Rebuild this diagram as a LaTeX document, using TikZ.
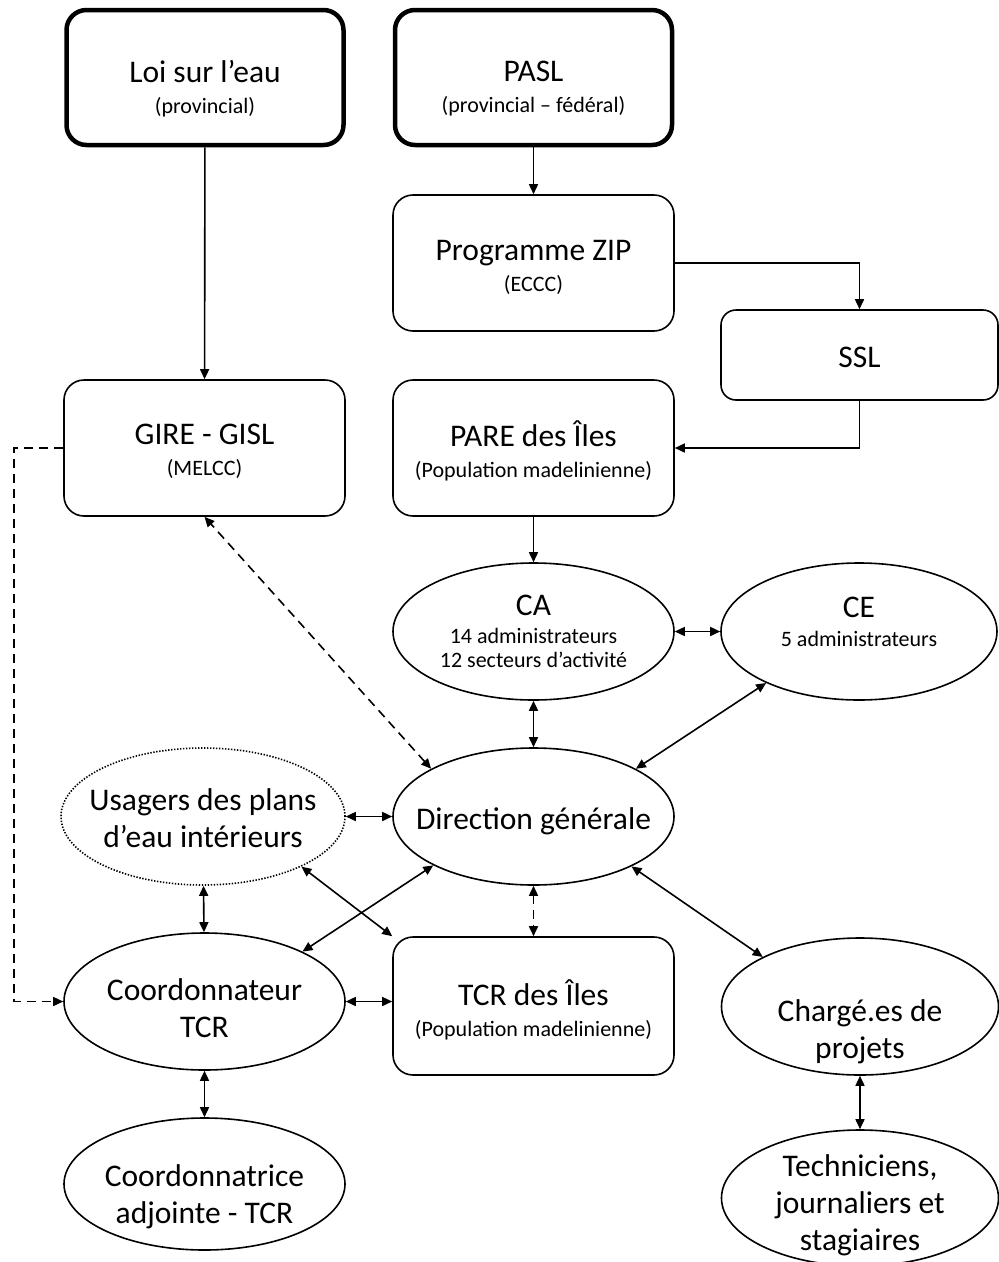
\documentclass[tikz,border=0pt]{standalone}
\usepackage{fontspec}
\setmainfont{Carlito}
\usetikzlibrary{arrows.meta, shapes.geometric}

\newcommand{\subtxt}[1]{{\fontsize{22}{26}\selectfont #1}}

\tikzstyle{box} = [draw, rectangle, rounded corners=20pt, minimum width=281pt, minimum height=136pt, line width=1.6pt]
\tikzstyle{top box} = [box, line width=4.5pt, minimum width=277pt, minimum height=135pt]
\tikzstyle{oval} = [draw, ellipse, minimum width=281pt, minimum height=137pt, inner sep=0pt, line width=1.6pt]
\tikzstyle{txt} = [align=center, font=\fontsize{31.5}{37}\selectfont]
\tikzstyle{link} = [draw, line width=1.6pt]
\tikzstyle{dash link} = [dash pattern=on 9pt off 6pt]

\begin{document}
\begin{tikzpicture}[x=1pt, y=-1pt, >={Triangle[length=10pt,width=9pt]}]
    \useasboundingbox (0,0) rectangle (999,1262);

    % The two frameworks on top
    \node[top box, label={[txt, yshift=-11pt]center:{Loi sur l’eau\\[-6pt]\subtxt{(provincial)}}}] (loi) at (205,77.5) {};
    \node[top box, label={[txt, yshift=-11pt]center:{PASL\\[-6pt]\subtxt{(provincial – fédéral)}}}] (pasl) at (533.5,77.5) {};

    % The boxes
    \node[box, label={[txt, yshift=-4pt]center:{Programme ZIP\\[-6pt]\subtxt{(ECCC)}}}] (zip) at (533.5,263) {};
    \node[box, minimum width=277pt, minimum height=90pt, rounded corners=15pt, label={[txt, yshift=-2pt]center:SSL}] (ssl) at (859.5,355) {};
    \node[box, label={[txt, yshift=-3pt]center:{GIRE - GISL\\[-6pt]\subtxt{(MELCC)}}}] (gire) at (204.5,448) {};
    \node[box, label={[txt, yshift=-3pt]center:{PARE des Îles\\[-6pt]\subtxt{(Population madelinienne)}}}] (pare) at (533.5,448) {};
    \node[box, minimum height=138pt, label={[txt, yshift=-4pt]center:{TCR des Îles\\[-6pt]\subtxt{(Population madelinienne)}}}] (tcr) at (533.5,1006) {};

    % The ellipses
    \node[oval, label={[txt]center:{CA\\[-9pt]\subtxt{14 administrateurs}\\[-13pt]\subtxt{12 secteurs d’activité}}}] (ca) at (533.5,631.5) {};
    \node[oval, minimum width=276pt, label={[txt, yshift=10pt]center:{CE\\[-8pt]\subtxt{5 administrateurs}}}] (ce) at (859,631.5) {};
    \node[oval, label={[txt, yshift=-5pt]center:Direction générale}] (dir) at (533.5,816.5) {};
    \node[oval, minimum width=284pt, dash pattern=on 1.4pt off 1.6pt, label={[txt, yshift=-2pt]center:{Usagers des plans\\d’eau intérieurs}}] (usagers) at (203,816.5) {};
    \node[oval, label={[txt, yshift=-7pt]center:{Coordonnateur\\TCR}}] (coord) at (204.5,1001.5) {};
    \node[oval, minimum height=132pt, label={[txt, yshift=-13pt]center:{Coordonnatrice\\adjointe - TCR}}] (adj) at (204.5,1184) {};
    \node[oval, minimum width=277pt, label={[txt, yshift=-25pt]center:{Chargé.es de\\projets}}] (charge) at (860,1006.5) {};
    \node[oval, minimum width=277pt, minimum height=136pt, label={[txt, yshift=-7pt]center:{Techniciens,\\journaliers et\\stagiaires}}] (tech) at (860,1198) {};

    % One way
    \foreach \source/\sink in {loi/gire, pasl/zip, pare/ca}
      \path[link, ->] (\source) -- (\sink);
    \path[link, ->] (zip.east) -| (ssl.north);
    \path[link, ->] (ssl.south) |- (pare.east);

    % Both ways
    \foreach \source/\sink in {ca/ce, ca/dir, usagers/dir, usagers/coord, coord/adj, charge/tech, dir.25/ce.209, dir.206/coord.27, dir.-27/charge.153, usagers.-27/tcr.north west}
      \path[link, <->] (\source) -- (\sink);
    \path[link, <->] (coord.east) -- (coord.east -| tcr.west);

    % Dashed ones
    \path[link, dash link, <->] (dir.155) -- (gire.south);
    \path[link, dash link, <->] (dir) -- (tcr);
    \path[link, dash link, ->] (gire.west) -- ++(-49,0) |- (coord.west);
\end{tikzpicture}
\end{document}
